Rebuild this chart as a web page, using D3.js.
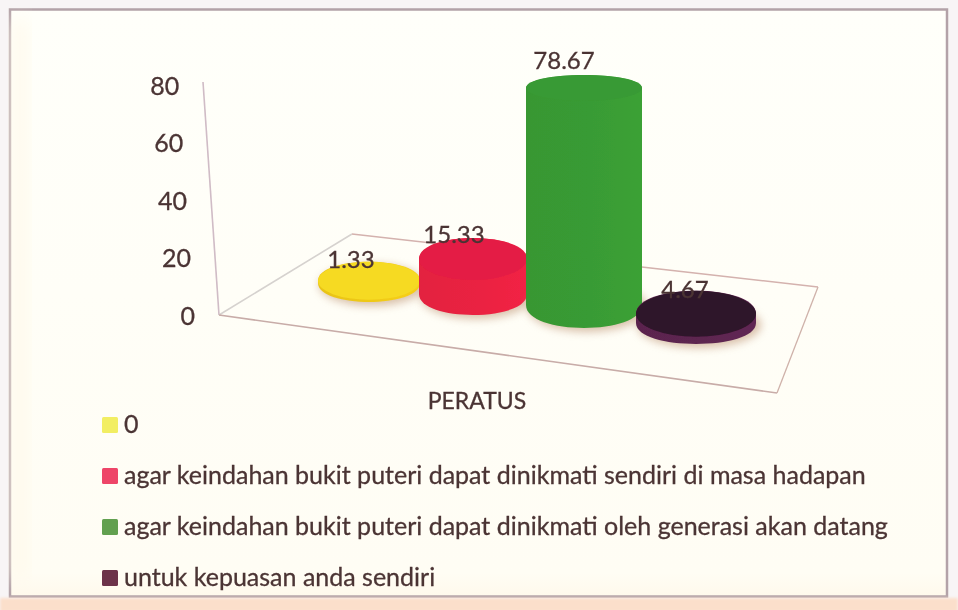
<!DOCTYPE html>
<html><head><meta charset="utf-8">
<script src="https://cdn.jsdelivr.net/npm/d3@7"></script>
<style>html,body{margin:0;padding:0;background:#f8f5f6;overflow:hidden}svg{display:block}text{font-family:Lato,sans-serif;fill:#4b3434;stroke:#4b3434;stroke-width:0.3px}</style>
</head><body><svg id="c" width="958" height="610"></svg>
<script>
const categories = ["0","agar keindahan bukit puteri dapat dinikmati sendiri di masa hadapan","agar keindahan bukit puteri dapat dinikmati oleh generasi akan datang","untuk kepuasan anda sendiri"];
const values = [1.33,15.33,78.67,4.67];
const valueLabels = ["1.33","15.33","78.67","4.67"];
const yTicks = [0,20,40,60,80];
const axisTitle = "PERATUS";
const topColors = ["#f6da22","#e41f45","#399a34","#2f1329"];
const sideColors = ["#efc918","#ea2142","#399b34","#5d2550"];
const legendColors = ["#f2ee62","#ee4468","#62a050","#6c3049"];

const svg = d3.select("#c");
const defs = svg.append("defs");
const blur = (id,s)=>defs.append("filter").attr("id",id).attr("x","-30%").attr("y","-30%").attr("width","160%").attr("height","160%").append("feGaussianBlur").attr("stdDeviation",s);
blur("soft",0.7); blur("shadow",4); blur("wide",9); blur("text",0.4); blur("edge",1.5);
sideColors.forEach((c,i)=>{
  const g=defs.append("linearGradient").attr("id","side"+i).attr("x1",0).attr("x2",1).attr("y1",0).attr("y2",0);
  g.append("stop").attr("offset",0).attr("stop-color",d3.color(c).darker(0.08));
  g.append("stop").attr("offset",0.55).attr("stop-color",c);
  g.append("stop").attr("offset",1).attr("stop-color",d3.color(c).brighter(0.1));
});
const bg=defs.append("linearGradient").attr("id","bg").attr("x1",0).attr("x2",0).attr("y1",0).attr("y2",1);
bg.append("stop").attr("offset",0).attr("stop-color","#fffffa");
bg.append("stop").attr("offset",0.96).attr("stop-color","#fffdf4");
bg.append("stop").attr("offset",1).attr("stop-color","#fff9ec");

// frame
svg.append("rect").attr("x",10).attr("y",9.5).attr("width",937).attr("height",587).attr("fill","url(#bg)").attr("stroke","#b3a2a8").attr("stroke-width",2.5).attr("filter","url(#soft)");
svg.append("rect").attr("x",0).attr("y",598).attr("width",958).attr("height",14).attr("fill","#fbdfcb").attr("filter","url(#edge)");
svg.append("rect").attr("x",13).attr("y",20).attr("width",14).attr("height",560).attr("fill","#fff9ea").attr("filter","url(#wide)");

// scales
const yAxisScale = d3.scaleLinear().domain([0,80]).range([315,85]);
const wallX = d3.scaleLinear().domain([315,82]).range([219,203]);
const heightScale = d3.scalePow().exponent(1.116).domain([0,78.67]).range([0,217]);
const cx = d3.scaleOrdinal(categories,[369,473,584,696]);
const baseY = d3.scaleOrdinal(categories,[283,294,305,323]);
const rx = d3.scaleOrdinal(categories,[51,54,58,60]);
const ryBase = d3.scaleOrdinal(categories,[19,21,23,21]);
const ryTop = d3.scaleOrdinal(categories,[19,21,13,23]);
const labelX = d3.scaleOrdinal(categories,[351,454,564,685]);
const labelGap = d3.scaleOrdinal(categories,[6,5,-6,7]);

// floor and wall
const floor = svg.append("g").attr("fill","none").attr("filter","url(#soft)");
const line = d3.line();
floor.append("path").attr("d",line([[203,82],[219,315]])).attr("stroke","#d0bcc6").attr("stroke-width",1.6);
floor.append("path").attr("d",line([[219,315],[352,234]])).attr("stroke","#d6d2cf").attr("stroke-width",1.6);
floor.append("path").attr("d",line([[352,234],[818,287]])).attr("stroke","#d4b2ae").attr("stroke-width",1.5);
floor.append("path").attr("d",line([[818,287],[777,393]])).attr("stroke","#cfb2aa").attr("stroke-width",1.3);
floor.append("path").attr("d",line([[777,393],[219,315]])).attr("stroke","#c8aca8").attr("stroke-width",1.6);

// value axis (text follows the slanted wall)
const axis = svg.append("g").call(d3.axisLeft(yAxisScale).tickValues(yTicks).tickSize(0).tickFormat(d3.format("d")));
axis.select(".domain").remove();
axis.selectAll(".tick").attr("transform",d=>`translate(${wallX(yAxisScale(d))-24},${yAxisScale(d)+0.5})`);
axis.selectAll("text").attr("x",0).attr("dy","0.36em").style("font-size","25px").attr("filter","url(#text)");

// cylinders
const rows = categories.map((c,i)=>({c,i,v:values[i],label:valueLabels[i]}));
const marks = svg.append("g").selectAll("g").data(rows).join("g");
marks.append("ellipse").attr("cx",d=>cx(d.c)+3).attr("cy",d=>baseY(d.c)+2)
  .attr("rx",d=>rx(d.c)+2).attr("ry",d=>ryBase(d.c)+2).attr("fill","#b98e6c").attr("opacity",0.55).attr("filter","url(#shadow)");
const cyl = marks.append("g").attr("filter","url(#soft)");
cyl.append("path").attr("fill",d=>`url(#side${d.i})`).attr("d",d=>{
  const x=cx(d.c),r=rx(d.c),b=baseY(d.c),t=b-heightScale(d.v),rb=ryBase(d.c),rt=ryTop(d.c);
  const p=d3.path();
  p.moveTo(x-r,t); p.lineTo(x-r,b);
  p.bezierCurveTo(x-r,b+rb*1.33,x+r,b+rb*1.33,x+r,b);
  p.lineTo(x+r,t);
  p.bezierCurveTo(x+r,t-rt*1.33,x-r,t-rt*1.33,x-r,t);
  p.closePath(); return p.toString();
});
cyl.append("ellipse").attr("cx",d=>cx(d.c)).attr("cy",d=>baseY(d.c)-heightScale(d.v))
  .attr("rx",d=>rx(d.c)).attr("ry",d=>ryTop(d.c)).attr("fill",d=>topColors[d.i]);

// value labels
svg.append("g").selectAll("text").data(rows).join("text")
  .attr("x",d=>labelX(d.c)).attr("text-anchor","middle")
  .attr("y",d=>baseY(d.c)-heightScale(d.v)-ryTop(d.c)+labelGap(d.c))
  .style("font-size","24px").attr("filter","url(#text)").text(d=>d.label);

// axis title
svg.append("text").attr("x",477).attr("y",409).attr("text-anchor","middle").style("font-size","23px").attr("filter","url(#text)").text(axisTitle);

// legend
const legendY = d3.scalePoint().domain(categories).range([425,578]);
const lg = svg.append("g").selectAll("g").data(rows).join("g").attr("transform",d=>`translate(0,${legendY(d.c)})`);
lg.append("rect").attr("x",102).attr("y",-8).attr("width",16).attr("height",16).attr("rx",1.5).attr("fill",d=>legendColors[d.i]).attr("filter","url(#text)");
lg.append("text").attr("x",124).attr("y",8).style("font-size","25px").attr("filter","url(#text)").text(d=>d.c);
</script></body></html>
